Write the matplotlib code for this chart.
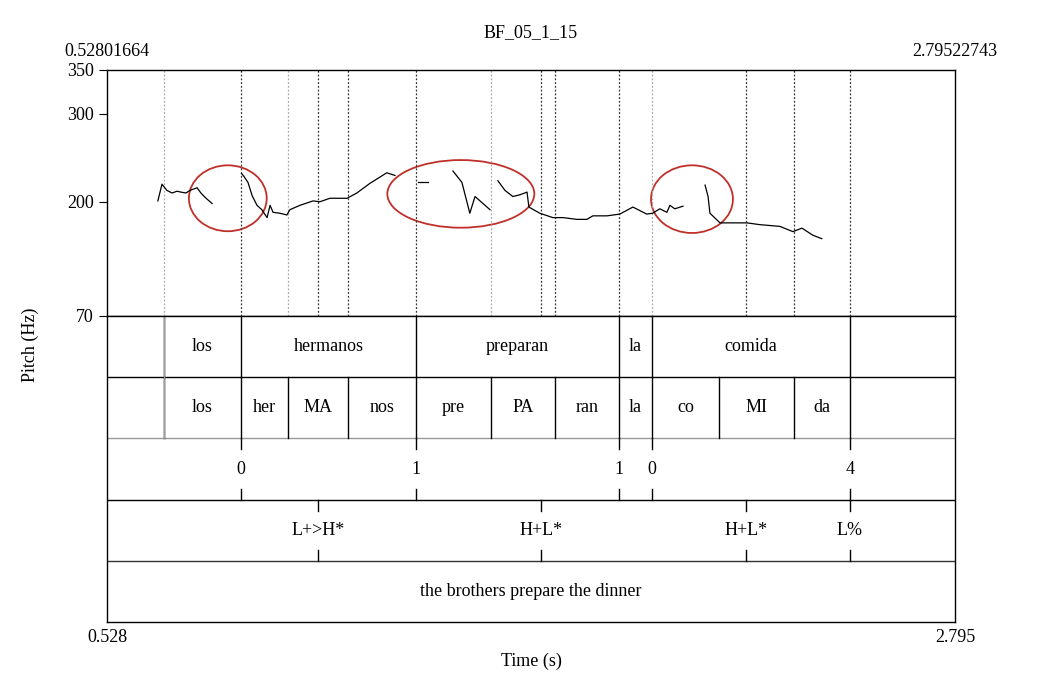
import matplotlib
matplotlib.use("Agg")
import matplotlib.pyplot as plt
from matplotlib.patches import Ellipse

plt.rcParams['font.family'] = ['Liberation Serif', 'DejaVu Serif']

T0, T1 = 0.52801664, 2.79522743
title = "BF_05_1_15"

pitch_segments = [
    ([0.664,0.675,0.688,0.702,0.715,0.726,0.739,0.750,0.769,0.779,0.793,0.809],
     [201,220,213,210,212,211,210,213,216,210,204,198]),
    ([0.888,0.894,0.905,0.916,0.929,0.942,0.956,0.964,0.972,0.990,1.009,1.017,1.044,1.079,1.097,1.124,1.170,1.196,1.231,1.276,1.298],
     [232,229,222,207,196,191,182,196,188,187,185,191,196,201,200,204,204,210,221,233,230]),
    ([1.359,1.386], [222,222]),
    ([1.453,1.477,1.498,1.512,1.552], [235,222,187,206,191]),
    ([1.573,1.592,1.613,1.632,1.651,1.656,1.685,1.720,1.747,1.784,1.811,1.827,1.865,1.899,1.934,1.971,1.987,2.006,2.025,2.033,2.046,2.068],
     [224,213,206,208,211,194,187,182,182,180,180,184,184,186,194,186,187,192,188,196,192,195]),
    ([2.127,2.135,2.140,2.167,2.201,2.239,2.273,2.327,2.362,2.386,2.415,2.439],
     [219,206,187,176,176,176,174,172,166,170,162,158]),
]

# (center time, center Hz, width s, height Hz)
ellipses = [(0.851, 204, 0.208, 75), (1.474, 209, 0.393, 77), (2.092, 203, 0.219, 77)]

words_b = [0.680, 0.886, 1.354, 1.897, 1.985, 2.514]
words = ["los", "hermanos", "preparan", "la", "comida"]
syl_b = [0.680, 0.886, 1.012, 1.172, 1.354, 1.555, 1.726, 1.897, 1.985, 2.164, 2.364, 2.514]
syls = ["los", "her", "MA", "nos", "pre", "PA", "ran", "la", "co", "MI", "da"]
brk_t = [0.886, 1.354, 1.897, 1.985, 2.514]
brk = ["0", "1", "1", "0", "4"]
tone_t = [1.092, 1.688, 2.236, 2.514]
tones = ["L+>H*", "H+L*", "H+L*", "L%"]
gloss = "the brothers prepare the dinner"

dark_lines = [0.886, 1.092, 1.172, 1.354, 1.688, 1.726, 1.897, 2.236, 2.364, 2.514]
light_lines = [0.680, 1.012, 1.555, 1.985]

W, H = 1058, 690
fig = plt.figure(figsize=(W/100, H/100), dpi=100)
L, Wd = 107/W, 848/W
axp = fig.add_axes([L, 1-316/H, Wd, 246/H])
axt = fig.add_axes([L, 1-622/H, Wd, 306/H])

for ax in (axp, axt):
    ax.set_xlim(T0, T1)
    for s in ax.spines.values():
        s.set_color('black'); s.set_linewidth(1.0)

axp.set_ylim(70, 350)
axp.set_xticks([])
axp.set_yticks([70, 200, 300, 350])
axp.tick_params(axis='y', direction='out', length=6, labelsize=13)
for x in dark_lines:
    axp.axvline(x, color='#333333', ls=(0, (1.5, 1.5)), lw=0.9)
for x in light_lines:
    axp.axvline(x, color='#aaaaaa', ls=(0, (1.5, 1.5)), lw=0.9)
for ts, hz in pitch_segments:
    axp.plot(ts, hz, color='black', lw=0.9)
for cx, cy, w, h in ellipses:
    axp.add_patch(Ellipse((cx, cy), w, h, fill=False, ec='#c0302a', lw=1.3))

axt.set_ylim(0, 5)
axt.set_xticks([]); axt.set_yticks([])
fs = 13
for y, c in [(4, 'black'), (3, '#999999'), (2, 'black'), (1, '#333333')]:
    axt.axhline(y, color=c, lw=1.0)

def interval(lo_y, bounds, labels):
    for b in bounds:
        axt.plot([b, b], [lo_y, lo_y+1], color='black', lw=1.0)
    for a, b, lab in zip(bounds[:-1], bounds[1:], labels):
        axt.text((a+b)/2, lo_y+0.5, lab, ha='center', va='center', fontsize=fs)

interval(4, words_b, words)
interval(3, syl_b, syls)
axt.plot([words_b[0]]*2, [3, 5], color='#999999', lw=1.0)

def points(lo_y, ts, labels):
    for t, lab in zip(ts, labels):
        axt.plot([t, t], [lo_y+0.82, lo_y+1], color='black', lw=1.0)
        axt.plot([t, t], [lo_y, lo_y+0.18], color='black', lw=1.0)
        axt.text(t, lo_y+0.5, lab, ha='center', va='center', fontsize=fs)

points(2, brk_t, brk)
points(1, tone_t, tones)
axt.text((T0+T1)/2, 0.5, gloss, ha='center', va='center', fontsize=fs)

fig.text((107+955)/2/W, 1-33/H, title, ha='center', va='center', fontsize=13)
fig.text(107/W, 1-52/H, "0.52801664", ha='center', va='center', fontsize=13)
fig.text(955/W, 1-52/H, "2.79522743", ha='center', va='center', fontsize=13)
fig.text(107/W, 1-637/H, "0.528", ha='center', va='center', fontsize=13)
fig.text(955/W, 1-637/H, "2.795", ha='center', va='center', fontsize=13)
fig.text(531/W, 1-661/H, "Time (s)", ha='center', va='center', fontsize=13)
fig.text(30/W, 1-345/H, "Pitch (Hz)", ha='center', va='center', rotation=90, fontsize=13)

fig.savefig("out.png", dpi=100)
